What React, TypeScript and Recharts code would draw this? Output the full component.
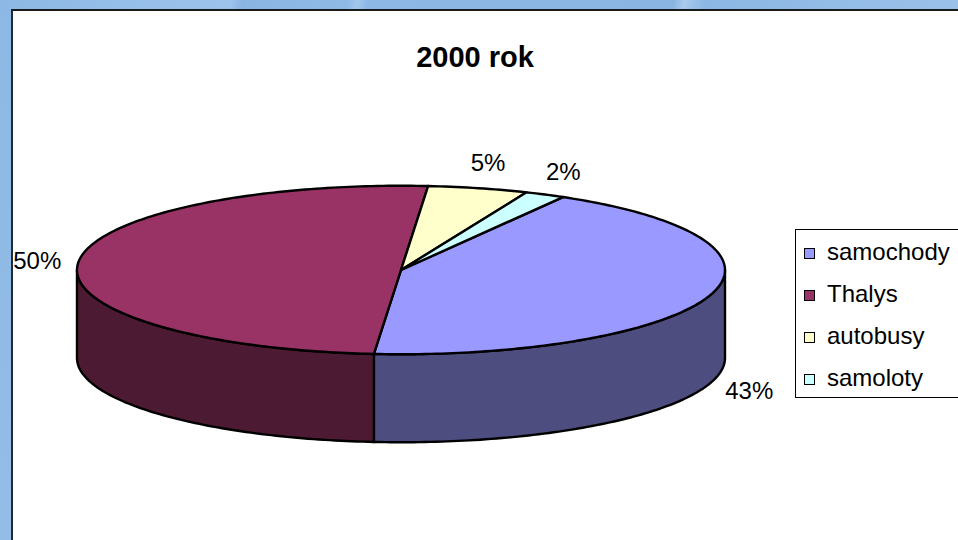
import React from 'react';
import { PieChart, Pie, Cell, Legend } from 'recharts';

// Udział środków transportu w ruchu pasażerskim, rok 2000
const categories = ['samochody', 'Thalys', 'autobusy', 'samoloty'];
const shares = [43, 50, 5, 2];

const TOP_COLORS = ['#9999FF', '#993366', '#FFFFCC', '#CCFFFF'];
const SIDE_COLORS = ['#4D4D80', '#4D1A33', '#808066', '#668080'];

const FONT = '"Liberation Sans", Arial, sans-serif';
const TILT = 0.26; // ry / rx
const DEPTH = 88; // wall height of the 3D pie
const RAD = Math.PI / 180;

const chartData = categories.map((name, i) => ({ name, value: shares[i] }));

const pt = (cx: number, cy: number, rx: number, ry: number, deg: number, dy = 0) =>
  [cx + rx * Math.cos(deg * RAD), cy - ry * Math.sin(deg * RAD) + dy];

const arc = (cx: number, cy: number, rx: number, ry: number, from: number, to: number, dy = 0) => {
  const steps = Math.max(2, Math.ceil(Math.abs(to - from)));
  const out: number[][] = [];
  for (let i = 0; i <= steps; i++) {
    out.push(pt(cx, cy, rx, ry, from + ((to - from) * i) / steps, dy));
  }
  return out;
};

const toPath = (points: number[][]) =>
  'M' + points.map((p) => `${p[0].toFixed(2)},${p[1].toFixed(2)}`).join('L') + 'Z';

// elliptical slice with its front wall
const Slice3D = (props: any) => {
  const { cx, cy, outerRadius, startAngle, endAngle } = props;
  const name = props.payload?.name ?? props.name;
  const idx = Math.max(0, categories.indexOf(name));
  const rx = outerRadius;
  const ry = outerRadius * TILT;

  // parts of the slice that lie on the front half (angles -180..0)
  const lo = Math.min(startAngle, endAngle);
  const hi = Math.max(startAngle, endAngle);
  const walls: string[] = [];
  for (let k = -2; k <= 2; k++) {
    const a = Math.max(lo, -180 + 360 * k);
    const b = Math.min(hi, 360 * k);
    if (b - a > 0.01) {
      const upper = arc(cx, cy, rx, ry, a, b);
      const lower = arc(cx, cy, rx, ry, b, a, DEPTH);
      walls.push(toPath([...upper, ...lower]));
    }
  }

  const top = toPath([[cx, cy], ...arc(cx, cy, rx, ry, startAngle, endAngle)]);

  return (
    <g>
      {walls.map((d, i) => (
        <path key={i} d={d} fill={SIDE_COLORS[idx]} stroke="#000" strokeWidth={2.4} strokeLinejoin="round" />
      ))}
      <path d={top} fill={TOP_COLORS[idx]} stroke="#000" strokeWidth={2.4} strokeLinejoin="round" />
    </g>
  );
};

const renderLabel = (props: any) => {
  const { cx, cy, outerRadius, midAngle, value } = props;
  const rx = outerRadius;
  const ry = outerRadius * TILT;
  const s = Math.sin(midAngle * RAD);
  const x = cx + (rx + 41) * Math.cos(midAngle * RAD);
  const y = cy - (ry + 26) * s + (s < 0 ? DEPTH : 0);
  return (
    <text x={x} y={y} textAnchor="middle" dominantBaseline="central" fill="#000"
      style={{ fontFamily: FONT, fontSize: 24 }}>
      {`${value}%`}
    </text>
  );
};

const renderLegend = () => (
  <div style={{
    border: '1px solid #000', background: '#fff', boxSizing: 'border-box',
    width: '100%', height: '100%', paddingTop: 1,
  }}>
    {categories.map((c, i) => (
      <div key={c} style={{ height: 42, display: 'flex', alignItems: 'center' }}>
        <span style={{
          display: 'inline-block', flexShrink: 0, width: 9, height: 9, border: '1px solid #000',
          background: TOP_COLORS[i], marginLeft: 8, marginRight: 12, marginTop: 3,
        }} />
        <span style={{ fontFamily: FONT, fontSize: 24, lineHeight: '42px', color: '#000', whiteSpace: 'nowrap' }}>
          {c}
        </span>
      </div>
    ))}
  </div>
);

export default function App() {
  return (
    <div style={{
      position: 'absolute', left: 0, top: 0, width: 958, height: 540, overflow: 'hidden',
      background: 'linear-gradient(100deg, #8db8e5 0%, #9cc3eb 22%, #8ab5e3 23%, #8fbae6 33%, #a3c7ec 34%, #8db8e5 35%, #8ab5e3 64%, #a9cbee 65%, #8cb7e4 67%, #9dc3ea 97%, #b5d2f0 98%, #8fbae6 100%)',
    }}>
      {/* white chart area */}
      <div style={{
        position: 'absolute', left: 11, top: 9, width: 960, height: 540, background: '#fff',
        borderTop: '2px solid #1a1a1a', borderLeft: '2px solid #1f2b3a', boxSizing: 'border-box',
      }} />

      <div style={{ position: 'absolute', left: 0, top: 0 }}>
        <PieChart width={958} height={540} margin={{ top: 0, right: 0, bottom: 0, left: 0 }}>
          <Pie
            data={chartData}
            dataKey="value"
            nameKey="name"
            cx={401}
            cy={270}
            outerRadius={324}
            startAngle={60}
            endAngle={-300}
            isAnimationActive={false}
            shape={Slice3D}
            activeShape={Slice3D}
            inactiveShape={Slice3D}
            label={renderLabel}
            labelLine={false}
            stroke="#000"
          >
            {chartData.map((entry, i) => (
              <Cell key={`cell-${entry.name}`} fill={TOP_COLORS[i]} />
            ))}
          </Pie>
          <Legend
            layout="vertical"
            align="right"
            verticalAlign="middle"
            content={renderLegend}
            wrapperStyle={{ left: 795, top: 229, width: 175, height: 169 }}
          />
        </PieChart>
      </div>

      <div style={{
        position: 'absolute', left: 375, top: 42, width: 200, textAlign: 'center',
        fontFamily: FONT, fontWeight: 'bold', fontSize: 29, lineHeight: '30px', color: '#000',
      }}>
        2000 rok
      </div>
    </div>
  );
}
